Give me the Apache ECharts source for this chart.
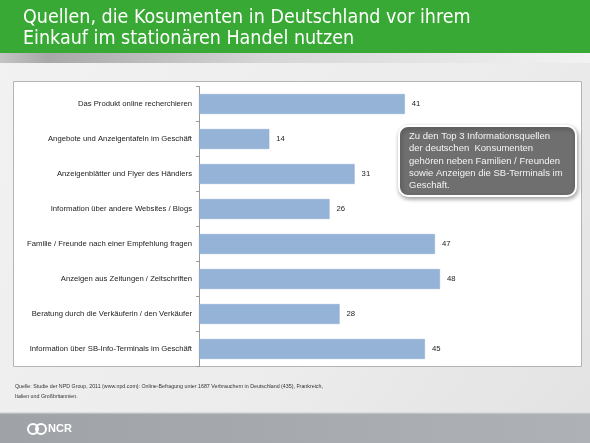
<!DOCTYPE html>
<html><head><meta charset="utf-8">
<script src="https://cdn.jsdelivr.net/npm/echarts@6/dist/echarts.min.js"></script>
<style>html,body{margin:0;padding:0;background:#ededed}#c{width:590px;height:443px}</style>
</head><body><div id="c"></div>
<script>
const categories = [
  "Das Produkt online recherchieren",
  "Angebote und Anzeigentafeln im Geschäft",
  "Anzeigenblätter und Flyer des Händlers",
  "Information über andere Websites / Blogs",
  "Familie / Freunde nach einer Empfehlung fragen",
  "Anzeigen aus Zeitungen / Zeitschriften",
  "Beratung durch die Verkäuferin / den Verkäufer",
  "Information über SB-Info-Terminals im Geschäft"
];
const values = [41, 14, 31, 26, 47, 48, 28, 45];
const titleLines = ["Quellen, die Kosumenten in Deutschland vor ihrem", "Einkauf im stationären Handel nutzen"];
const calloutLines = ["Zu den Top 3 Informationsquellen", "der deutschen  Konsumenten", "gehören neben Familien / Freunden", "sowie Anzeigen die SB-Terminals im", "Geschäft."];
const sourceLines = ["Quelle: Studie der NPD Group, 2011 (www.npd.com): Online-Befragung unter 1687 Verbrauchern in Deutschland (435), Frankreich,", "Italien und Großbritannien."];

const chart = echarts.init(document.getElementById('c'), null, {renderer: 'canvas'});
chart.setOption({
  animation: false,
  backgroundColor: '#ececec',
  grid: {left: 199, width: 351.4, top: 86.5, height: 280},
  xAxis: {type: 'value', min: 0, max: 70, show: false},
  yAxis: {
    type: 'category', data: categories, inverse: true,
    axisLine: {show: true, lineStyle: {color: '#9a9a9a', width: 1}},
    axisTick: {show: true, length: 3, lineStyle: {color: '#9a9a9a'}},
    axisLabel: {color: '#222', fontSize: 7.7, fontFamily: 'Liberation Sans', margin: 7}
  },
  series: [{
    type: 'bar', data: values, barCategoryGap: '43%',
    itemStyle: {color: '#95b3d7', borderColor: '#8aa8d0', borderWidth: 0.5},
    label: {show: true, position: 'right', distance: 7, color: '#222', fontSize: 7.7, fontFamily: 'Liberation Sans'},
    z: 5
  }],
  graphic: [
    {type: 'rect', z: -20, shape: {x: 0, y: 0, width: 590, height: 443}, style: {fill: new echarts.graphic.LinearGradient(0, 0, 1, 1, [{offset: 0, color: '#f2f2f2'}, {offset: 0.6, color: '#ececec'}, {offset: 1, color: '#e2e2e2'}])}},
    {type: 'rect', z: -19, shape: {x: 0, y: 0, width: 590, height: 53}, style: {fill: '#39a935'}},
    {type: 'rect', z: -19, shape: {x: 0, y: 53, width: 590, height: 10}, style: {fill: new echarts.graphic.LinearGradient(0, 0, 1, 0, [{offset: 0, color: '#c4c4c4'}, {offset: 0.08, color: '#a8a8a8'}, {offset: 0.45, color: '#d6d6d6'}, {offset: 1, color: '#f2f2f2'}])}},
    {type: 'text', z: -18, x: 23, y: 7, style: {text: titleLines.join('\n'), fill: '#ffffff', font: '19.5px "DejaVu Sans Condensed", "DejaVu Sans"', lineHeight: 21}},
    {type: 'rect', z: -18, shape: {x: 13.5, y: 81.5, width: 568, height: 285}, style: {fill: '#ffffff', stroke: '#b4b4b4', lineWidth: 1}},
    {type: 'rect', z: 50, shape: {x: 399, y: 126, width: 177, height: 70, r: 9}, style: {fill: '#6f6f6f', stroke: '#ffffff', lineWidth: 2, shadowBlur: 4, shadowOffsetX: 1, shadowOffsetY: 2, shadowColor: 'rgba(0,0,0,0.35)'}},
    {type: 'text', z: 51, x: 409, y: 130, style: {text: calloutLines.join('\n'), fill: '#f4f4f4', font: '9.5px "Liberation Sans"', lineHeight: 12.4}},
    {type: 'text', z: -17, x: 15, y: 381, style: {text: sourceLines.join('\n'), fill: '#333', font: '5.3px "Liberation Sans"', lineHeight: 10.5}},
    {type: 'rect', z: -17, shape: {x: 0, y: 413, width: 590, height: 30}, style: {fill: new echarts.graphic.LinearGradient(0, 0, 1, 0, [{offset: 0, color: '#9fa3a7'}, {offset: 1, color: '#aeb2b6'}])}},
    {type: 'rect', z: -16, shape: {x: 0, y: 412, width: 590, height: 1.5}, style: {fill: '#d8dadc'}},
    {type: 'circle', z: -15, shape: {cx: 33, cy: 429, r: 5}, style: {fill: 'none', stroke: '#ffffff', lineWidth: 2}},
    {type: 'circle', z: -15, shape: {cx: 41, cy: 429, r: 5}, style: {fill: 'none', stroke: '#ffffff', lineWidth: 2}},
    {type: 'text', z: -15, x: 48, y: 423, style: {text: 'NCR', fill: '#ffffff', font: 'bold 11px "Liberation Sans"'}}
  ]
});
</script></body></html>
